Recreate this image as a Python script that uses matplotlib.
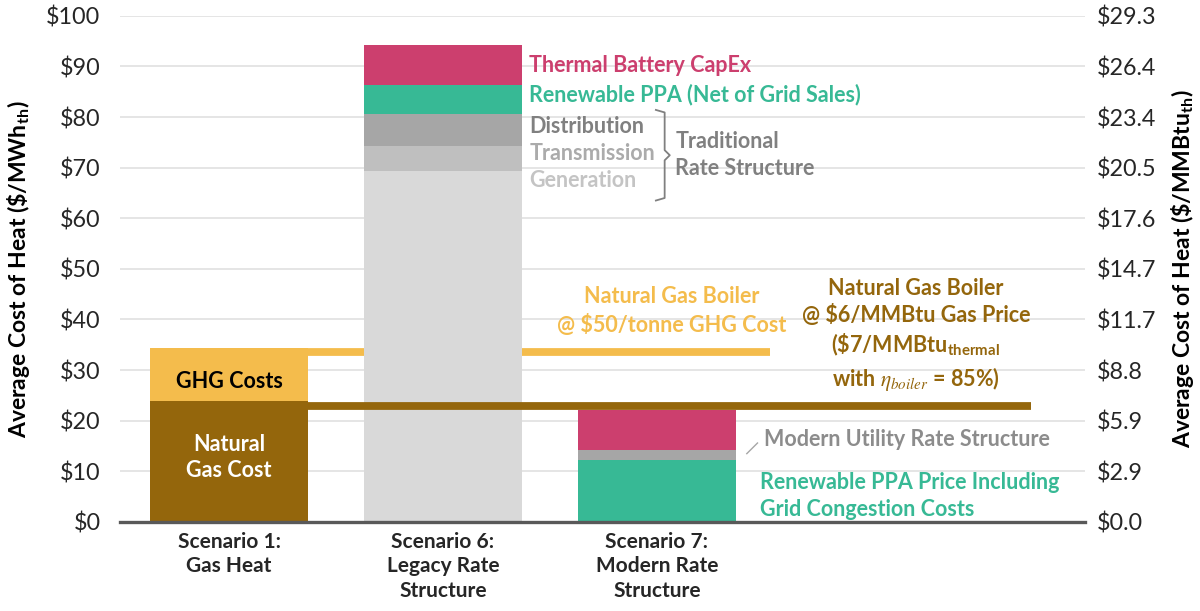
import matplotlib
matplotlib.use("Agg")
import matplotlib.pyplot as plt
import numpy as np

plt.rcParams['font.family'] = ['Lato', 'DejaVu Sans']
plt.rcParams['mathtext.fontset'] = 'stix'

# ---------------- data ----------------
scenarios = ["Scenario 1:\nGas Heat", "Scenario 6:\nLegacy Rate\nStructure", "Scenario 7:\nModern Rate\nStructure"]
natural_gas_cost = [23.8, 0, 0]
ghg_costs = [10.5, 0, 0]
generation = [0, 69.4, 0]
transmission = [0, 4.8, 0]
distribution = [0, 6.4, 0]
renewable_ppa = [0, 5.8, 12.3]
modern_utility_rate = [0, 0, 1.9]
thermal_battery_capex = [0, 7.9, 7.9]

gas_boiler_ghg_level = 33.5      # $/MWh_th, natural gas boiler incl. $50/tonne GHG
gas_boiler_level = 23.0          # $/MWh_th, natural gas boiler @ $6/MMBtu
mwh_per_mmbtu = 3.412
left_ticks = [0, 10, 20, 30, 40, 50, 60, 70, 80, 90, 100]

# ---------------- colours ----------------
c_brown = "#94660C"
c_yellow = "#F4BC4C"
c_pink = "#CC3F6E"
c_green = "#37B995"
c_dist = "#A6A6A6"
c_trans = "#BFBFBF"
c_gen = "#D9D9D9"

fig = plt.figure(figsize=(12, 6.11), dpi=100)
ax = fig.add_axes([0.100, 0.1457, 0.804, 0.8285])

x = np.arange(len(scenarios))
w = 0.74

# reference lines (behind bars of scenario 6)
ax.plot([x[0] - w / 2, 2.53], [gas_boiler_ghg_level] * 2, color=c_yellow, lw=5.6,
        solid_capstyle='butt', zorder=2)
ax.plot([x[0] - w / 2, 3.75], [gas_boiler_level] * 2, color=c_brown, lw=5.6,
        solid_capstyle='butt', zorder=4)

stack = [
    (natural_gas_cost, c_brown),
    (ghg_costs, c_yellow),
    (generation, c_gen),
    (transmission, c_trans),
    (distribution, c_dist),
    (renewable_ppa, c_green),
    (modern_utility_rate, c_dist),
    (thermal_battery_capex, c_pink),
]
bottom = np.zeros(len(scenarios))
for vals, col in stack:
    vals = np.array(vals, dtype=float)
    ax.bar(x, vals, w, bottom=bottom, color=col, zorder=3, linewidth=0)
    bottom += vals

ax.set_xlim(-0.51, 4.0)
ax.set_ylim(0, 100)
ax.set_yticks(left_ticks)
ax.set_yticklabels([f"${v}" for v in left_ticks])
ax.set_xticks(x)
ax.set_xticklabels(scenarios, fontweight='bold', fontsize=15, linespacing=1.3)
ax.tick_params(axis='both', length=0, labelsize=16.8, colors='#262626')
ax.tick_params(axis='x', pad=7, labelsize=15)
ax.tick_params(axis='y', pad=14)
ax.grid(axis='y', color='#E3E3E3', lw=1.3, zorder=0)
ax.set_axisbelow(True)
for s in ['top', 'left', 'right']:
    ax.spines[s].set_visible(False)
ax.spines['bottom'].set_color('#595959')
ax.spines['bottom'].set_linewidth(2.4)
ax.spines['bottom'].set_zorder(6)
ax.set_ylabel(r"Average Cost of Heat (\$/MWh$_{\mathregular{th}}$)", fontsize=16.5,
              fontweight='bold')
ax.yaxis.set_label_coords(-0.091, 0.5)

ax2 = ax.twinx()
ax2.set_ylim(0, 100 / mwh_per_mmbtu)
rt = [v / mwh_per_mmbtu for v in left_ticks]
ax2.set_yticks(rt)
ax2.set_yticklabels([f"${v:.1f}" for v in rt])
ax2.tick_params(axis='y', length=0, labelsize=16.8, colors='#262626', pad=9)
for s in ['top', 'left', 'right', 'bottom']:
    ax2.spines[s].set_visible(False)
ax2.set_ylabel(r"Average Cost of Heat (\$/MMBtu$_{\mathregular{th}}$)", fontsize=16.5,
               fontweight='bold')
ax2.yaxis.set_label_coords(1.087, 0.5)

fs = 15.5
# bar 6 labels
tx = 1.404
ax.text(tx, 90.1, "Thermal Battery CapEx", color=c_pink, fontsize=fs, fontweight='bold', va='center', zorder=7)
ax.text(tx, 84.4, "Renewable PPA (Net of Grid Sales)", color=c_green, fontsize=fs, fontweight='bold', va='center', zorder=7)
ax.text(tx, 78.1, "Distribution", color='#808080', fontsize=fs, fontweight='bold', va='center', zorder=7)
ax.text(tx, 72.7, "Transmission", color='#ABABAB', fontsize=fs, fontweight='bold', va='center', zorder=7)
ax.text(tx, 67.4, "Generation", color='#C4C4C4', fontsize=fs, fontweight='bold', va='center', zorder=7)

# bracket
bx0, bx1, bxm = 1.995, 2.036, 2.06
ytop, ybot = 81.4, 63.5
ymid = (ytop + ybot) / 2
ax.plot([bx0, bx1, bx1, bxm, bx1, bx1, bx0],
        [ytop, ytop - 0.5, ymid + 1.0, ymid, ymid - 1.0, ybot + 0.5, ybot],
        color='#808080', lw=1.3, zorder=7)
ax.text(2.085, ymid, "Traditional\nRate Structure", color='#808080', fontsize=fs,
        fontweight='bold', va='center', ha='left', linespacing=1.35, zorder=7)

# gas boiler labels
ax.text(2.068, 41.7, "Natural Gas Boiler\n@ $50/tonne GHG Cost", color=c_yellow, fontsize=fs,
        fontweight='bold', ha='center', va='center', linespacing=1.35, zorder=7)
ax.text(3.21, 36.9,
        "Natural Gas Boiler\n@ \\$6/MMBtu Gas Price\n(\\$7/MMBtu$_{\\mathregular{thermal}}$\nwith $\\eta_{boiler}$ = 85%)",
        color=c_brown, fontsize=fs, fontweight='bold', ha='center', va='center', linespacing=1.3, zorder=7)

# bar 7 labels
ax.plot([2.42, 2.47], [13.5, 15.6], color='#A6A6A6', lw=1, zorder=7)
ax.text(2.50, 16.2, "Modern Utility Rate Structure", color='#8C8C8C', fontsize=fs,
        fontweight='bold', va='center', zorder=7)
ax.text(2.48, 5.2, "Renewable PPA Price Including\nGrid Congestion Costs", color=c_green, fontsize=fs,
        fontweight='bold', va='center', linespacing=1.35, zorder=7)

# bar 1 labels
ax.text(x[0], 27.7, "GHG Costs", color='black', fontsize=fs, fontweight='bold',
        ha='center', va='center', zorder=7)
ax.text(x[0], 12.8, "Natural\nGas Cost", color='white', fontsize=fs, fontweight='bold',
        ha='center', va='center', linespacing=1.3, zorder=7)

fig.savefig("out.png", dpi=100)
